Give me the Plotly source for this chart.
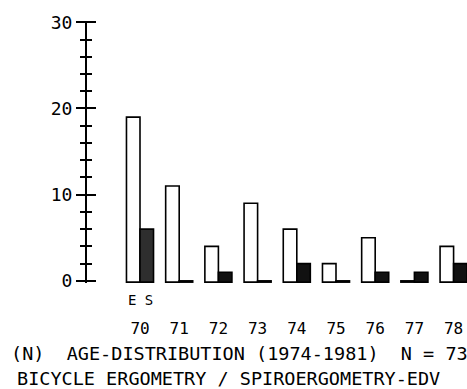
import plotly.graph_objects as go

years = [70, 71, 72, 73, 74, 75, 76, 77, 78]
year_labels = ["70", "71", "72", "73", "74", "75", "76", "77", "78"]
es_values = [19, 11, 4, 9, 6, 2, 5, 0, 4]      # open bars (E)
s_values = [6, 0, 1, 0, 2, 0, 1, 1, 2]         # filled bars (S)
y_tickvals = [0, 10, 20, 30]
y_ticktext = ["0", "10", "20", "30"]

FONT = "DejaVu Sans Mono"
BASE = -0.15  # so zero-valued bars still show their base edge

fig = go.Figure()
fig.add_trace(go.Bar(
    x=years, y=[v - BASE for v in es_values], base=BASE,
    marker=dict(color="white", line=dict(color="black", width=1.6)),
    name="E", hoverinfo="skip"))
fig.add_trace(go.Bar(
    x=years, y=[v - BASE for v in s_values], base=BASE,
    marker=dict(color=["#2e2e2e"] + ["#111111"] * (len(years) - 1),
                line=dict(color="black", width=1.6)),
    name="S", hoverinfo="skip"))
fig.add_trace(go.Scatter(x=[years[0]], y=[0], yaxis="y2", mode="markers",
                         marker=dict(opacity=0), hoverinfo="skip", showlegend=False))

yr = [-0.25, 30.15]
fig.update_layout(
    width=467, height=389,
    margin=dict(l=87, r=0, t=21, b=106),
    paper_bgcolor="white", plot_bgcolor="white",
    showlegend=False,
    barmode="group", bargap=0.31, bargroupgap=0,
    font=dict(family=FONT, color="black"),
    xaxis=dict(range=[68.648, 78.342], showline=False, showgrid=False, zeroline=False,
               tickmode="array", tickvals=years, ticktext=year_labels, ticks="",
               tickfont=dict(family=FONT, size=16, color="black"),
               ticklabelstandoff=34),
    yaxis=dict(range=yr, showline=True, linecolor="black", linewidth=2,
               showgrid=False, zeroline=False,
               tickmode="array", tickvals=y_tickvals, ticktext=y_ticktext,
               ticks="outside", ticklen=9, tickwidth=2, tickcolor="black",
               minor=dict(dtick=2, tick0=0, ticks="outside", ticklen=5,
                          tickwidth=1.5, tickcolor="black", showgrid=False),
               tickfont=dict(family=FONT, size=18, color="black")),
    yaxis2=dict(range=yr, overlaying="y", side="left", anchor="x",
                showline=False, showgrid=False, zeroline=False, showticklabels=False,
                tickmode="array", tickvals=y_tickvals,
                ticks="inside", ticklen=9, tickwidth=2, tickcolor="black",
                minor=dict(dtick=2, tick0=0, ticks="inside", ticklen=5,
                           tickwidth=1.5, tickcolor="black", showgrid=False)),
)

fig.add_annotation(x=years[0], xref="x", y=-0.063, yref="paper",
                   text="E S", showarrow=False, xanchor="center", yanchor="middle",
                   font=dict(family=FONT, size=14, color="black"))
fig.add_annotation(x=-0.205, xref="paper", y=-0.270, yref="paper",
                   text="(N)\u00a0\u00a0AGE-DISTRIBUTION\u00a0(1974-1981)\u00a0\u00a0N\u00a0=\u00a073",
                   showarrow=False, xanchor="left", yanchor="middle",
                   font=dict(family=FONT, size=18.5, color="black"))
fig.add_annotation(x=-0.19, xref="paper", y=-0.366, yref="paper",
                   text="BICYCLE\u00a0ERGOMETRY\u00a0/\u00a0SPIROERGOMETRY-EDV",
                   showarrow=False, xanchor="left", yanchor="middle",
                   font=dict(family=FONT, size=18.5, color="black"))

fig.write_html("out.html")
